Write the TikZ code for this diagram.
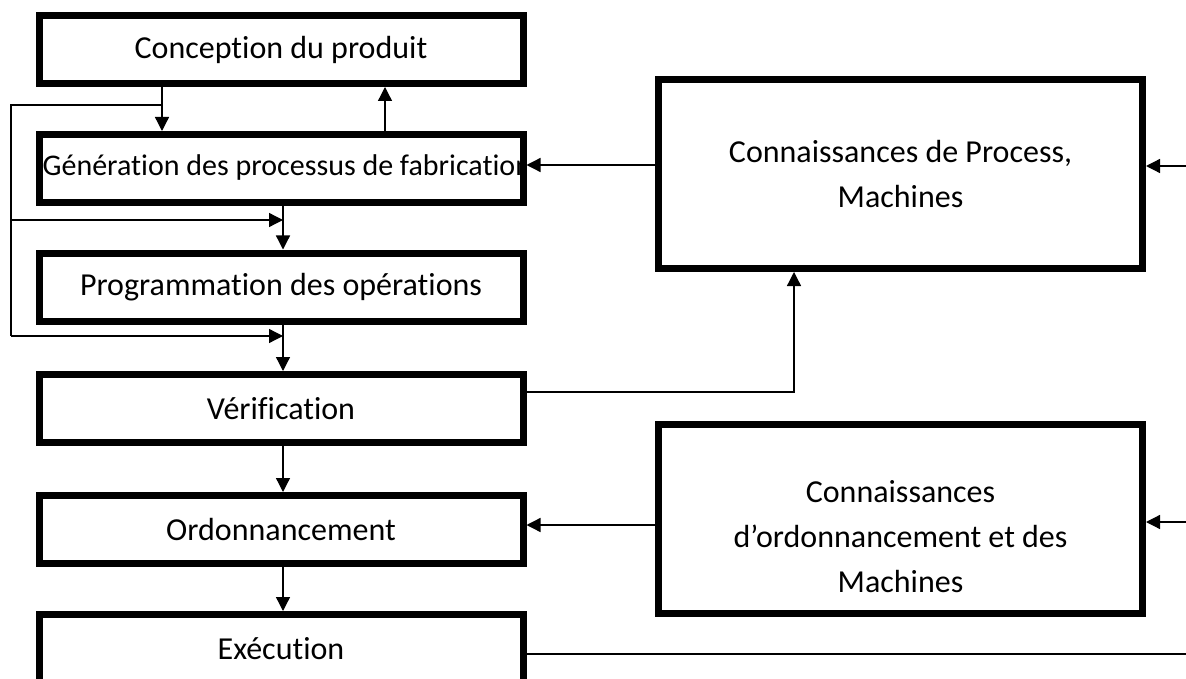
\documentclass[tikz,border=0pt]{standalone}
\usepackage{fontspec}
\setmainfont{Carlito}[Ligatures=NoCommon]
\usetikzlibrary{arrows.meta,calc}

\begin{document}
\begin{tikzpicture}[x=1pt, y=-1pt, line width=1.3pt,
    box/.style={rectangle, draw, line width=7pt, minimum width=484pt, minimum height=68pt, inner sep=0pt},
    bigbox/.style={box, minimum height=189pt, align=center},
    every node/.style={font=\fontsize{32}{45}\selectfont},
    >={Triangle[length=14pt,width=14pt]}]
    \useasboundingbox (0,0) rectangle (1186,679);
    % chain of steps
    \node[box] (conc) at (281,49.5) {Conception du produit};
    \node[box] (gen) at (281,168.5) {};
    \node[box] (prog) at (281,287) {Programmation des opérations};
    \node[box] (verif) at (281,408.5) {Vérification};
    \node[box] (ordo) at (281,529.5) {Ordonnancement};
    \node[box] (exec) at (281,648.5) {Exécution};
    \begin{scope}
        \clip (gen.south west) rectangle (gen.north east);
        \node[anchor=base west, inner sep=0pt, font=\fontsize{30}{36}\selectfont] (gentxt) at (42,176) {Génération des processus de fabrication};
    \end{scope}
    % knowledge bases
    \node[bigbox] (kproc) at (900.5,174) {Connaissances de Process,\\Machines};
    \node[bigbox] (kordo) at (900.5,518.5) {};
    \node[align=center] (kordotxt) at (900.5,537) {Connaissances\\d’ordonnancement et des\\Machines};
    % helper points
    \coordinate (xa) at (162,0);
    \coordinate (xb) at (385,0);
    \coordinate (xc) at (283,0);
    \coordinate (xd) at (794,0);
    \coordinate (lt) at (11,105);
    \coordinate (lm) at (11,220);
    \coordinate (lb) at (11,336);
    \coordinate (ya) at (0,165);
    \coordinate (yb) at (1186,166);
    \coordinate (yc) at (0,392);
    \coordinate (yd) at (0,525);
    \coordinate (ye) at (1186,522);
    \coordinate (yf) at (1186,654);
    % flow
    \draw[->] (conc.south -| xa) -- (gen.north -| xa);
    \draw[->] (gen.north -| xb) -- (conc.south -| xb);
    \draw[->] (gen.south -| xc) -- (prog.north -| xc);
    \draw[->] (prog.south -| xc) -- (verif.north -| xc);
    \draw[->] (verif.south -| xc) -- (ordo.north -| xc);
    \draw[->] (ordo.south -| xc) -- (exec.north -| xc);
    % feedback
    \draw (lt -| xa) -- (lt) -- (lb);
    \draw[->] (lm) -- (lm -| xc);
    \draw[->] (lb) -- (lb -| xc);
    \draw[->] (kproc.west |- ya) -- (gen.east |- ya);
    \draw[->] (yb) -- (yb -| kproc.east);
    \draw[->] (verif.east |- yc) -| (xd |- kproc.south);
    \draw[->] (kordo.west |- yd) -- (ordo.east |- yd);
    \draw[->] (ye) -- (ye -| kordo.east);
    \draw (exec.east |- yf) -- (yf);
\end{tikzpicture}
\end{document}
